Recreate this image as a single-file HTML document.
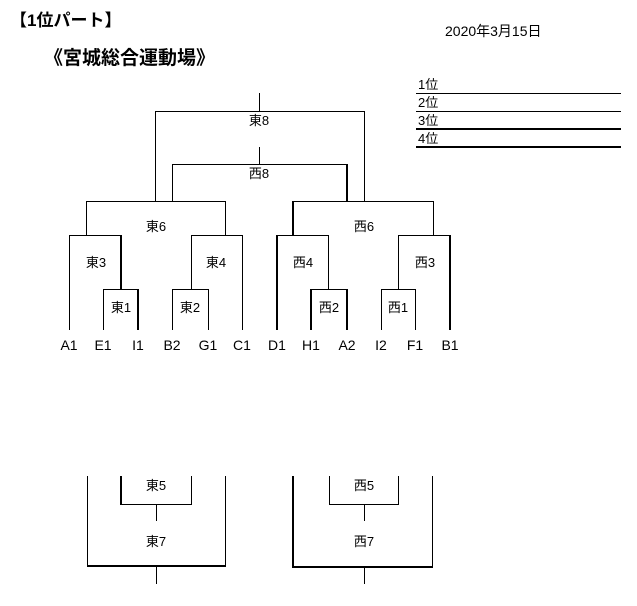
<!DOCTYPE html>
<html><head><meta charset="utf-8"><style>
body{margin:0;background:#fff;width:637px;height:601px;overflow:hidden}
svg text{font-family:"Liberation Sans","Noto Sans CJK JP",sans-serif;fill:#000}
</style></head><body>
<svg width="637" height="601" xmlns="http://www.w3.org/2000/svg">
<text x="10" y="26" font-size="17" font-weight="bold">【1位パート】</text>
<text x="44" y="64" font-size="19" font-weight="bold">《宮城総合運動場》</text>
<text x="445" y="36" font-size="14">2020年3月15日</text>
<g font-size="13">
<text x="418" y="89">1位</text><text x="418" y="107">2位</text><text x="418" y="125">3位</text><text x="418" y="143">4位</text>
</g>
<g stroke="#000" fill="none">
<line x1="416" y1="93.5" x2="621" y2="93.5" stroke-width="1"/>
<line x1="416" y1="111.5" x2="621" y2="111.5" stroke-width="1"/>
<line x1="416" y1="129" x2="621" y2="129" stroke-width="2"/>
<line x1="416" y1="147" x2="621" y2="147" stroke-width="2"/>
<g stroke-width="1">
<path d="M259.5 93V111.5M155.5 201V111.5H364.5V201"/>
<path d="M259.5 147V164.5M172.5 201V164.5H347"/>
<path d="M86.5 235V201.5H225.5V235M293 201.5H433.5V235"/>
<path d="M69.5 330V235.5H121M191.5 289V235.5H242.5V330"/>
<path d="M103.5 330V289.5H138M172.5 330V289.5H208.5V330"/>
<path d="M277 235.5H328.5V289M398.5 289V235.5H450"/>
<path d="M311 289.5H347M381.5 330V289.5H415.5V330"/>
<path d="M191.5 476V504.5H121M156.5 504V521M87.5 476V566M225.5 476V566M156.5 566V584"/>
<path d="M329.5 476V504.5H398.5V476M364.5 504V521M432.5 476V566M364.5 566V584"/>
</g>
<g stroke-width="2">
<path d="M347 164V201M293 201V235M121 235V289M138 289V330M277 235V330M311 289V330M347 289V330M450 235V330"/>
<path d="M121 476V505M87 566H226M293 476V567H433"/>
</g>
</g>
<g font-size="13" text-anchor="middle">
<text x="259" y="125">東8</text><text x="259" y="178">西8</text>
<text x="156" y="231">東6</text><text x="364" y="231">西6</text>
<text x="96" y="267">東3</text><text x="216" y="267">東4</text><text x="303" y="267">西4</text><text x="425" y="267">西3</text>
<text x="121" y="312">東1</text><text x="190" y="312">東2</text><text x="329" y="312">西2</text><text x="398" y="312">西1</text>
<text x="156" y="490">東5</text><text x="156" y="546">東7</text><text x="364" y="490">西5</text><text x="364" y="546">西7</text>
</g>
<g font-size="14" text-anchor="middle">
<text x="69" y="350">A1</text><text x="103" y="350">E1</text><text x="138" y="350">I1</text><text x="172" y="350">B2</text><text x="208" y="350">G1</text><text x="242" y="350">C1</text>
<text x="277" y="350">D1</text><text x="311" y="350">H1</text><text x="347" y="350">A2</text><text x="381" y="350">I2</text><text x="415" y="350">F1</text><text x="450" y="350">B1</text>
</g>
</svg>
</body></html>
